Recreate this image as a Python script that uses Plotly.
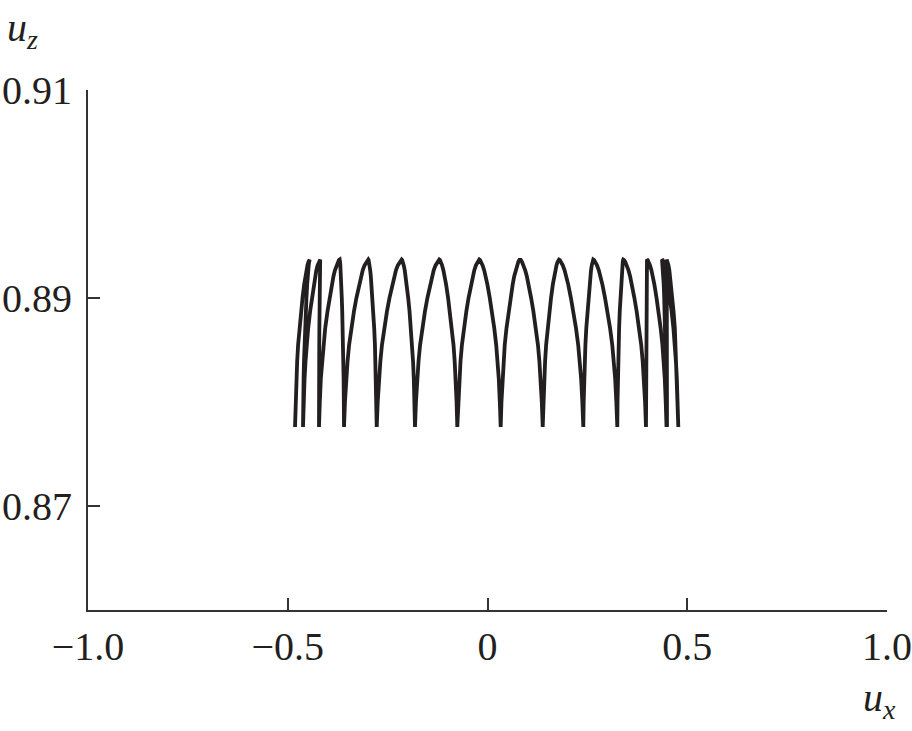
import plotly.graph_objects as go

# Turning points of the trajectory (u_x), alternating
# bottom cusp (B) / top of arch (T)
node_ux = [-0.4818, -0.4450, -0.4618, -0.4186, -0.4218, -0.3700, -0.3592,
           -0.2984, -0.2773, -0.2148, -0.1815, -0.1207, -0.0756, -0.0205,
           0.0330, 0.0814, 0.1382, 0.1790, 0.2398, 0.2648, 0.3249, 0.3399,
           0.3967, 0.3992, 0.4481, 0.4368, 0.4776, 0.4486, 0.4493]
node_kind = ["B", "T"] * 14 + ["B"]
uz_bottom = 0.8776
uz_top = 0.8937

# Shape of one arch leg: height fraction vs.
# horizontal fraction from cusp to top
leg_h = [0.0, 0.15, 0.29, 0.39, 0.49, 0.59, 0.69, 0.77, 0.85, 0.90, 0.935, 0.965, 0.985, 0.997, 1.0]
leg_f = [0.0, 0.04, 0.09, 0.145, 0.21, 0.30, 0.41, 0.51, 0.62, 0.70, 0.77, 0.845, 0.91, 0.965, 1.0]

x_tick_vals = [-1.0, -0.5, 0.0, 0.5, 1.0]
x_tick_text = ["\u22121.0", "\u22120.5", "0", "0.5", "1.0"]
y_tick_vals = [0.87, 0.89, 0.91]
y_tick_text = ["0.87", "0.89", "0.91"]

xs, zs = [], []
for i in range(len(node_ux) - 1):
    a, b = node_ux[i], node_ux[i + 1]
    if node_kind[i] == "B":
        cusp, top = a, b
        order = list(range(len(leg_h)))
    else:
        cusp, top = b, a
        order = list(range(len(leg_h) - 1, -1, -1))
    if xs:
        order = order[1:]
    for k in order:
        xs.append(cusp + leg_f[k] * (top - cusp))
        zs.append(uz_bottom + leg_h[k] * (uz_top - uz_bottom))

fig = go.Figure()
fig.add_trace(go.Scatter(x=xs, y=zs, mode="lines",
                         line=dict(color="#231f20", width=3.8),
                         hoverinfo="skip", showlegend=False))

font = dict(family="Liberation Serif, Times New Roman, serif", size=40, color="#231f20")

fig.update_layout(
    width=912, height=731,
    margin=dict(l=88, r=25, t=90, b=121),
    paper_bgcolor="white", plot_bgcolor="white",
    xaxis=dict(range=[-1.0, 1.0], tickvals=x_tick_vals, ticktext=x_tick_text,
               showgrid=False, zeroline=False, showline=True, linecolor="#333333",
               linewidth=2, ticks="inside", ticklen=12, tickwidth=2, tickcolor="#333333",
               tickfont=font, ticklabelstandoff=0, automargin=False),
    yaxis=dict(range=[0.86, 0.91], tickvals=y_tick_vals, ticktext=y_tick_text,
               showgrid=False, zeroline=False, showline=True, linecolor="#333333",
               linewidth=2, ticks="inside", ticklen=12, tickwidth=2, tickcolor="#333333",
               tickfont=font, ticklabelstandoff=6, automargin=False),
    annotations=[
        dict(text="<i>u</i><sub><i>z</i></sub>", xref="paper", yref="paper",
             x=-0.104, y=1.115, xanchor="left", yanchor="middle", showarrow=False,
             font=font),
        dict(text="<i>u</i><sub><i>x</i></sub>", xref="paper", yref="paper",
             x=0.991, y=-0.173, xanchor="center", yanchor="middle", showarrow=False,
             font=font),
    ],
)

# remove the default 8px page margin so the figure fills the window exactly
fig.write_html("out.html", config={"displayModeBar": False},
               post_script="document.body.style.margin='0px';")
